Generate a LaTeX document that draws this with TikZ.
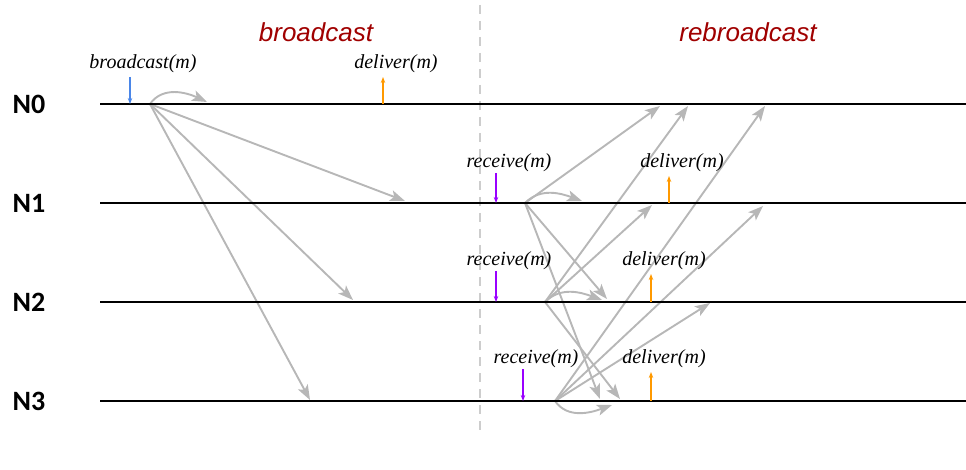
\documentclass[tikz,border=0pt]{standalone}
\usepackage{fontspec}
\setmainfont{Liberation Serif}
\setsansfont{Liberation Sans}
\newfontfamily\carlito{Carlito}
\usepackage{tikz}
\usetikzlibrary{arrows.meta}

\definecolor{titlered}{RGB}{160,0,0}
\definecolor{msggray}{RGB}{183,183,183}
\definecolor{sepgray}{RGB}{205,205,205}
\definecolor{bcblue}{RGB}{74,134,232}
\definecolor{rcvpurple}{RGB}{153,0,255}
\definecolor{dlvorange}{RGB}{255,153,0}

\tikzset{
  timeline/.style={line width=2pt},
  msg/.style={-{Stealth[length=15pt,width=11pt,inset=3.5pt]},draw=msggray,line width=1.9pt},
  event/.style={-{Stealth[length=6pt,width=4.5pt]},line width=1.2pt},
  proc/.style={font=\carlito\bfseries\fontsize{28}{28}\selectfont},
  title/.style={font=\sffamily\itshape\fontsize{26}{26}\selectfont,text=titlered},
  op/.style={font=\itshape\fontsize{20}{20}\selectfont,inner sep=0pt}
}

\begin{document}
\begin{tikzpicture}[x=1pt,y=-1pt]
\useasboundingbox (0,0) rectangle (966,470);

% process lines
\foreach \i/\y in {0/104,1/203,2/302,3/401}{
  \node[proc] (p\i) at (29,\y) {N\i};
  \coordinate (s\i) at (100,\y);
  \coordinate (e\i) at (966,\y);
}

% separator and titles
\coordinate (septop) at (480,5);
\coordinate (sepbot) at (480,435);
\draw[sepgray,line width=1.8pt,dash pattern=on 9pt off 7pt] (septop) -- (sepbot);
\node[title] (tbc) at (316,32) {broadcast};
\node[title] (trb) at (748,32) {rebroadcast};

% senders
\coordinate (b0) at (150,104);
\coordinate (r1) at (525,203);
\coordinate (r2) at (545,302);
\coordinate (r3) at (555,401);

% message ends
\coordinate (b0n1) at (405,201);
\coordinate (b0n2) at (353,300);
\coordinate (b0n3) at (310,400);
\coordinate (b0n0) at (207,102);
\coordinate (r1n0) at (660,106);
\coordinate (r1n1) at (582,201);
\coordinate (r1n2) at (607,299);
\coordinate (r1n3) at (600,399);
\coordinate (r2n0) at (688,106);
\coordinate (r2n1) at (652,205);
\coordinate (r2n2) at (602,300);
\coordinate (r2n3) at (620,399);
\coordinate (r3n0) at (765,106);
\coordinate (r3n1) at (763,206);
\coordinate (r3n2) at (710,303);
\coordinate (r3n3) at (612,405);

% broadcast
\draw[msg] (b0) to[out=55,in=155] (b0n0);
\foreach \t in {1,2,3}
  \draw[msg] (b0) -- (b0n\t);

% rebroadcast
\draw[msg] (r1) to[out=45,in=160] (r1n1);
\draw[msg] (r2) to[out=45,in=160] (r2n2);
\draw[msg] (r3) to[out=-55,in=-160] (r3n3);
\foreach \s/\t in {1/0,1/2,1/3,2/0,2/1,2/3,3/0,3/1,3/2}
  \draw[msg] (r\s) -- (r\s n\t);

\foreach \i in {0,...,3}
  \draw[timeline] (s\i) -- (e\i);

% events
\node[op] (bcop) at (143,64) {broadcast(m)};
\coordinate (bcup) at (130,77);
\draw[event,bcblue] (bcup) -- (bcup |- b0);
\node[op] (dl0) at (396,64) {deliver(m)};
\coordinate (dl0up) at (383,77);
\draw[event,dlvorange] (dl0up |- b0) -- (dl0up);

\foreach \i/\y/\rx/\dx in {1/163/496/669,2/261/496/651,3/359/523/651}{
  \node[op] (rc\i) at (\rx+13,\y) {receive(m)};
  \node[op] (dl\i) at (\dx+13,\y) {deliver(m)};
  \coordinate (rc\i up) at (\rx,\y+10);
  \coordinate (dl\i up) at (\dx,\y+13);
  \draw[event,rcvpurple] (rc\i up) -- (rc\i up |- s\i);
  \draw[event,dlvorange] (dl\i up |- s\i) -- (dl\i up);
}
\end{tikzpicture}
\end{document}
